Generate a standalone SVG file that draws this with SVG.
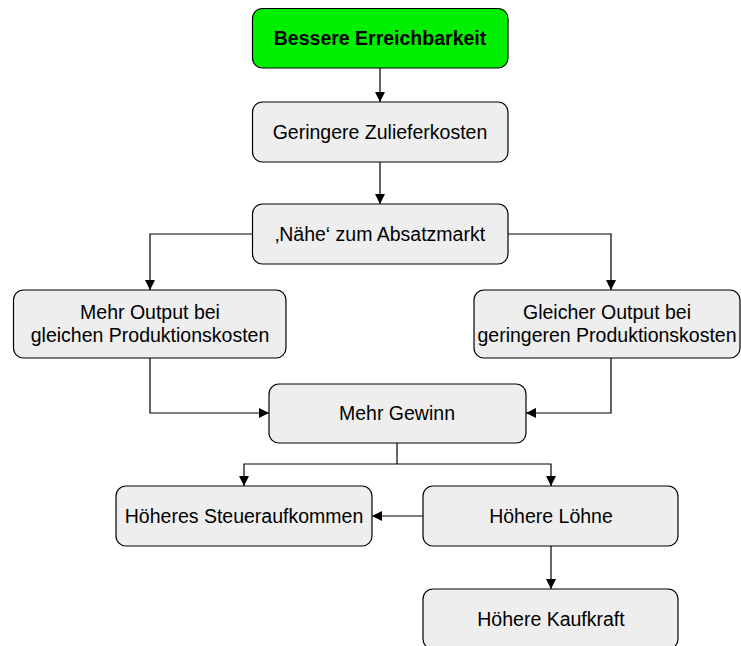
<svg xmlns="http://www.w3.org/2000/svg" width="741" height="646" viewBox="0 0 741 646">
<style>
.box{fill:#eeeeee;stroke:#000;stroke-width:1.2}
.green{fill:#00ee00;stroke:#000;stroke-width:1.2}
text{font-family:"Liberation Sans",Arial,sans-serif;font-size:19.5px;fill:#000;text-anchor:middle}
.b{font-weight:bold}
.c{fill:none;stroke:#000;stroke-width:1.2}
</style>
<defs>
<marker id="ah" viewBox="0 0 10 10" refX="10" refY="5" markerWidth="10" markerHeight="10" markerUnits="userSpaceOnUse" orient="auto">
<path d="M0,0 L10,5 L0,10 z" fill="#000"/>
</marker>
</defs>
<rect width="741" height="646" fill="#fff"/>
<g id="connectors">
<path class="c" d="M380,68 V102" marker-end="url(#ah)"/>
<path class="c" d="M380,162 V204" marker-end="url(#ah)"/>
<path class="c" d="M252,234 H150 V290" marker-end="url(#ah)"/>
<path class="c" d="M508,234 H611 V290" marker-end="url(#ah)"/>
<path class="c" d="M150,358 V413 H269" marker-end="url(#ah)"/>
<path class="c" d="M611,358 V413 H526" marker-end="url(#ah)"/>
<path class="c" d="M397,443 V464 H244 V486" marker-end="url(#ah)"/>
<path class="c" d="M397,464 H551 V486" marker-end="url(#ah)"/>
<path class="c" d="M423,516 H372" marker-end="url(#ah)"/>
<path class="c" d="M551,546 V589" marker-end="url(#ah)"/>
</g>
<g id="n1"><rect class="green" x="252.5" y="8.5" width="255.5" height="59.5" rx="10"/><text class="b" x="380" y="45">Bessere Erreichbarkeit</text></g>
<g id="n2"><rect class="box" x="252.5" y="102" width="255.5" height="60" rx="10"/><text x="380" y="139">Geringere Zulieferkosten</text></g>
<g id="n3"><rect class="box" x="252.5" y="204" width="255.5" height="60" rx="10"/><text x="380" y="241">‚Nähe‘ zum Absatzmarkt</text></g>
<g id="n4"><rect class="box" x="13.5" y="290" width="272.5" height="68" rx="10"/><text x="150" y="319">Mehr Output bei</text><text x="150" y="342">gleichen Produktionskosten</text></g>
<g id="n5"><rect class="box" x="474" y="290" width="266" height="68" rx="10"/><text x="607" y="319">Gleicher Output bei</text><text x="607" y="342">geringeren Produktionskosten</text></g>
<g id="n6"><rect class="box" x="269" y="384" width="257" height="59" rx="10"/><text x="397" y="420">Mehr Gewinn</text></g>
<g id="n7"><rect class="box" x="116" y="486" width="256" height="60" rx="10"/><text x="244" y="523">Höheres Steueraufkommen</text></g>
<g id="n8"><rect class="box" x="423" y="486" width="255" height="60" rx="10"/><text x="551" y="523">Höhere Löhne</text></g>
<g id="n9"><rect class="box" x="423" y="589" width="255" height="60" rx="10"/><text x="551" y="626">Höhere Kaufkraft</text></g>
</svg>
